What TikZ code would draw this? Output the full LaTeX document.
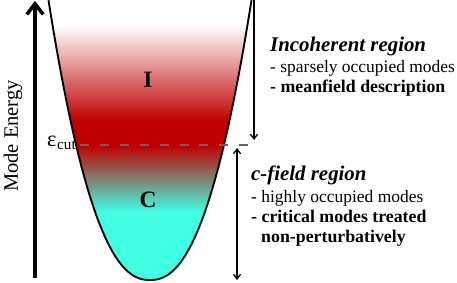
\documentclass[tikz,border=0pt]{standalone}
\usepackage{fontspec}
\setmainfont{Liberation Serif}
\usetikzlibrary{arrows.meta}
\usepackage{xcolor}

\definecolor{redI}{RGB}{192,0,0}
\definecolor{cyanC}{RGB}{64,255,227}
\pgfdeclareverticalshading{modeshade}{100bp}{%
    color(0bp)=(cyanC); color(37.3bp)=(cyanC); color(49bp)=(redI);
    color(53.5bp)=(redI); color(70.5bp)=(white); color(100bp)=(white)}

\begin{document}
\begin{tikzpicture}[
    x=0.03cm,
    y=0.03cm,
    every node/.style={inner sep=0pt},
    axisarrow/.style={
        line width=3pt,
        -{Straight Barb[length=9pt,width=14pt]}
    },
    bracket/.style={
        line width=1.1pt
    },
    cutline/.style={
        draw=black!60,
        line width=1pt,
        dash pattern=on 7.65pt off 9.35pt,
        dash phase=14.45pt
    },
    titulo/.style={
        anchor=base west,
        font=\fontsize{17.8}{20}\selectfont\bfseries\itshape
    },
    linha/.style={
        anchor=base west,
        font=\fontsize{14.9}{17}\selectfont
    },
    linhab/.style={
        anchor=base west,
        font=\fontsize{15.2}{17}\selectfont\bfseries
    },
    letra/.style={
        font=\fontsize{20}{22}\selectfont\bfseries
    }
]

\useasboundingbox (0,0) rectangle (457,282);

% ============================================================
% POCO
% ============================================================

\shade[shading=modeshade]
plot[domain=-101.5:101.5, samples=80]
({150+\x},{2+exp(2.3*ln(abs(\x)+0.001)-4.992)}) -- cycle;

\draw[line width=1.6pt]
plot[domain=-101.5:101.5, samples=80]
({150+\x},{2+exp(2.3*ln(abs(\x)+0.001)-4.992)});

\node[letra] (regI) at (148,202) {I};
\node[letra] (regC) at (148,82) {C};

% corte
\coordinate (cutL) at (77,137);
\coordinate (cutR) at (252,137);
\draw[cutline] (cutL) -- (cutR);

\node[
    anchor=east,
    font=\fontsize{19}{21}\selectfont
] (ecut) at (76,139)
{ε\kern0.5pt{\fontsize{13}{15}\selectfont\raisebox{-3pt}{cut}}};

% ============================================================
% EIXO
% ============================================================

\coordinate (eixoBase) at (35,4);
\coordinate (eixoTopo) at (35,281);
\draw[axisarrow] (eixoBase) -- (eixoTopo);

\node[
    rotate=90,
    font=\fontsize{17.5}{20}\selectfont
] (eixo) at (13,146)
{Mode Energy};

% ============================================================
% REGIOES
% ============================================================

\coordinate (incTopo) at (254,282);
\coordinate (incBase) at (254,142);
\draw[bracket, -{Straight Barb[length=4pt,width=6pt]}]
(incTopo) -- (incBase);

\coordinate (cfTopo) at (237,134);
\coordinate (cfBase) at (237,2);
\draw[bracket, {Straight Barb[length=4pt,width=6pt]}-{Straight Barb[length=4pt,width=6pt]}]
(cfTopo) -- (cfBase);

% Incoerente
\node[titulo] (incTitulo) at (270,230) {Incoherent region};
\node[linha] (incA) at (270,209) {- sparsely occupied modes};
\node[linhab] (incB) at (270,189) {- meanfield description};

% c-field
\node[titulo] (cfTitulo) at (251,101) {c-field region};
\node[linha] (cfA) at (251,79) {- highly occupied modes};
\node[linhab] (cfB) at (251,59) {- critical modes treated};
\node[linhab] (cfC) at (261,40) {non-perturbatively};

\end{tikzpicture}
\end{document}
